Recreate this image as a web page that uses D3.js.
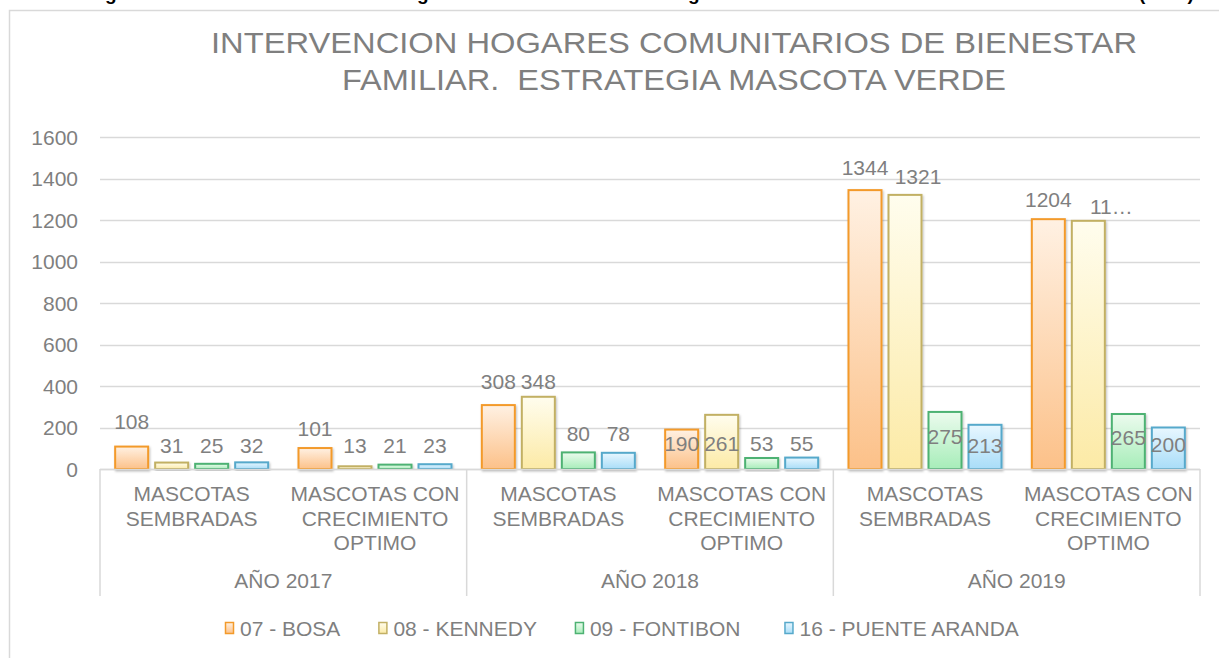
<!DOCTYPE html>
<html>
<head>
<meta charset="utf-8">
<script src="https://cdn.jsdelivr.net/npm/d3@7"></script>
<style>
  html, body { margin: 0; padding: 0; background: #fff; }
  svg { display: block; font-family: "Liberation Sans", Arial, sans-serif; }
  svg text { white-space: pre; }
</style>
</head>
<body>
<svg id="chart" width="1219" height="658"></svg>
<script>
// ---------- data ----------
const titleLines = ["INTERVENCION HOGARES COMUNITARIOS DE BIENESTAR", "FAMILIAR.  ESTRATEGIA MASCOTA VERDE"];
const years = ["AÑO 2017", "AÑO 2018", "AÑO 2019"];
const subCategories = [["MASCOTAS", "SEMBRADAS"], ["MASCOTAS CON", "CRECIMIENTO", "OPTIMO"]];
const seriesNames = ["07 - BOSA", "08 - KENNEDY", "09 - FONTIBON", "16 - PUENTE ARANDA"];
const bosa = [108, 101, 308, 190, 1344, 1204];
const kennedy = [31, 13, 348, 261, 1321, 1196];
const fontibon = [25, 21, 80, 53, 275, 265];
const puenteAranda = [32, 23, 78, 55, 213, 200];
const yTicks = [0, 200, 400, 600, 800, 1000, 1200, 1400, 1600];
// label text overrides (truncated label as in the source)
const labelOverrides = { "1-5": "11…" };
// where the data labels sit (in value units), as seen in the source
const labelAt = [
  [228, 196, 424, 125, 1451, 1301],
  [111, 111, 424, 125, 1412, 1263],
  [111, 111, 173, 125, 159, 154],
  [111, 111, 173, 125, 111, 116]
];
const labelDx = [[0,0,0,0,0,0],[0,0,0,0,13,23],[0,0,0,0,0,0],[0,0,0,0,0,0]];

const seriesValues = [bosa, kennedy, fontibon, puenteAranda];
const styles = [
  { stroke: "#F39A2A", top: "#FFF1E3", bottom: "#FCC189" },
  { stroke: "#C2B064", top: "#FFFDEE", bottom: "#FCEAA6" },
  { stroke: "#4EB273", top: "#ECFBEE", bottom: "#A7EDB9" },
  { stroke: "#56A9CB", top: "#E8F7FF", bottom: "#A9DDF8" }
];
const textColor = "#7f7f7f";
const gridColor = "#d9d9d9";

// ---------- layout ----------
const svg = d3.select("#chart");
const plotLeft = 100, plotRight = 1200, plotTop = 137, plotBottom = 469;

// caption fragments clipped at top of image
const cap = svg.append("g").attr("font-weight", "bold").attr("font-size", 19).attr("fill", "#000");
[[105, "g"], [417, "g"], [688, "g"], [1139, "(2019)"]].forEach(([x, t]) => {
  cap.append("text").attr("x", x).attr("y", 0).text(t);
});

// chart border
svg.append("rect").attr("x", 9.5).attr("y", 10.5).attr("width", 1230).attr("height", 680)
  .attr("fill", "none").attr("stroke", gridColor).attr("stroke-width", 1.5);

// gradients
const defs = svg.append("defs");
styles.forEach((s, i) => {
  const g = defs.append("linearGradient").attr("id", "grad" + i)
    .attr("x1", 0).attr("y1", 0).attr("x2", 0).attr("y2", 1);
  g.append("stop").attr("offset", "0%").attr("stop-color", s.top);
  g.append("stop").attr("offset", "100%").attr("stop-color", s.bottom);
});
const f = defs.append("filter").attr("id", "shadow").attr("x", "-20%").attr("y", "-20%").attr("width", "140%").attr("height", "140%");
f.append("feDropShadow").attr("dx", 1).attr("dy", 1.5).attr("stdDeviation", 1.2).attr("flood-color", "#000").attr("flood-opacity", 0.25);

// title
const title = svg.append("g").attr("fill", textColor).attr("font-size", 30);
const titleWidths = [926, 664];
titleLines.forEach((t, i) => {
  title.append("text").attr("x", 674).attr("y", 53 + i * 37).attr("text-anchor", "middle")
    .attr("textLength", titleWidths[i]).attr("lengthAdjust", "spacingAndGlyphs").text(t);
});

// scales
const y = d3.scaleLinear().domain([0, 1600]).range([plotBottom, plotTop]);
const groups = d3.range(6);
const x0 = d3.scaleBand().domain(groups).range([plotLeft, plotRight]).padding(0);
const x1 = d3.scaleBand().domain(d3.range(4)).range([0, x0.bandwidth()]).paddingInner(0.175).paddingOuter(0.379);

// gridlines
svg.append("g").selectAll("line").data(yTicks).join("line")
  .attr("x1", plotLeft).attr("x2", plotRight)
  .attr("y1", d => Math.round(y(d)) + 0.5).attr("y2", d => Math.round(y(d)) + 0.5)
  .attr("stroke", gridColor).attr("stroke-width", 1.5);

// y tick labels
svg.append("g").attr("fill", textColor).attr("font-size", 21).selectAll("text").data(yTicks).join("text")
  .attr("x", 78).attr("y", d => y(d) + 7.5).attr("text-anchor", "end").text(d => d);

// bars
const barData = [];
seriesValues.forEach((vals, si) => vals.forEach((v, gi) => barData.push({ si, gi, v })));
svg.append("g").selectAll("rect").data(barData).join("rect")
  .attr("x", d => x0(d.gi) + x1(d.si))
  .attr("y", d => y(d.v))
  .attr("width", x1.bandwidth())
  .attr("height", d => y(0) - y(d.v))
  .attr("fill", d => `url(#grad${d.si})`)
  .attr("stroke", d => styles[d.si].stroke)
  .attr("stroke-width", 2)
  .attr("filter", "url(#shadow)");

// x axis structure
const ax = svg.append("g").attr("stroke", gridColor).attr("stroke-width", 1.5);
ax.append("line").attr("x1", plotLeft).attr("x2", plotRight).attr("y1", plotBottom + 0.5).attr("y2", plotBottom + 0.5);
[0, 2, 4, 6].forEach(k => {
  const xx = k < 6 ? x0(k) : plotRight;
  ax.append("line").attr("x1", xx).attr("x2", xx).attr("y1", plotBottom).attr("y2", 596);
});

// data labels
svg.append("g").attr("fill", textColor).attr("font-size", 21).attr("text-anchor", "middle")
  .selectAll("text").data(barData).join("text")
  .attr("x", d => x0(d.gi) + x1(d.si) + x1.bandwidth() / 2 + labelDx[d.si][d.gi])
  .attr("y", d => y(labelAt[d.si][d.gi]) + 7.5)
  .text(d => labelOverrides[`${d.si}-${d.gi}`] || d.v);

// category labels
const cat = svg.append("g").attr("fill", textColor).attr("font-size", 21).attr("text-anchor", "middle");
groups.forEach(gi => {
  const lines = subCategories[gi % 2];
  const cx = x0(gi) + x0.bandwidth() / 2;
  lines.forEach((l, li) => {
    cat.append("text").attr("x", cx).attr("y", 501 + li * 24.5).text(l);
  });
});
years.forEach((yr, i) => {
  const cx = (x0(i * 2) + x0(i * 2 + 1) + x0.bandwidth()) / 2;
  cat.append("text").attr("x", cx).attr("y", 588).text(yr);
});

// legend
const leg = svg.append("g").attr("font-size", 21).attr("fill", textColor);
let lx = 225;
const legendGaps = [38, 38, 44];
seriesNames.forEach((n, i) => {
  leg.append("rect").attr("x", lx + 0.5).attr("y", 622.5).attr("width", 8).attr("height", 11)
    .attr("fill", `url(#grad${i})`).attr("stroke", styles[i].stroke).attr("stroke-width", 1.5);
  const t = leg.append("text").attr("x", lx + 15).attr("y", 636).text(n);
  const w = t.node().getComputedTextLength();
  lx = lx + 15 + w + (legendGaps[i] || 0);
});
</script>
</body>
</html>
